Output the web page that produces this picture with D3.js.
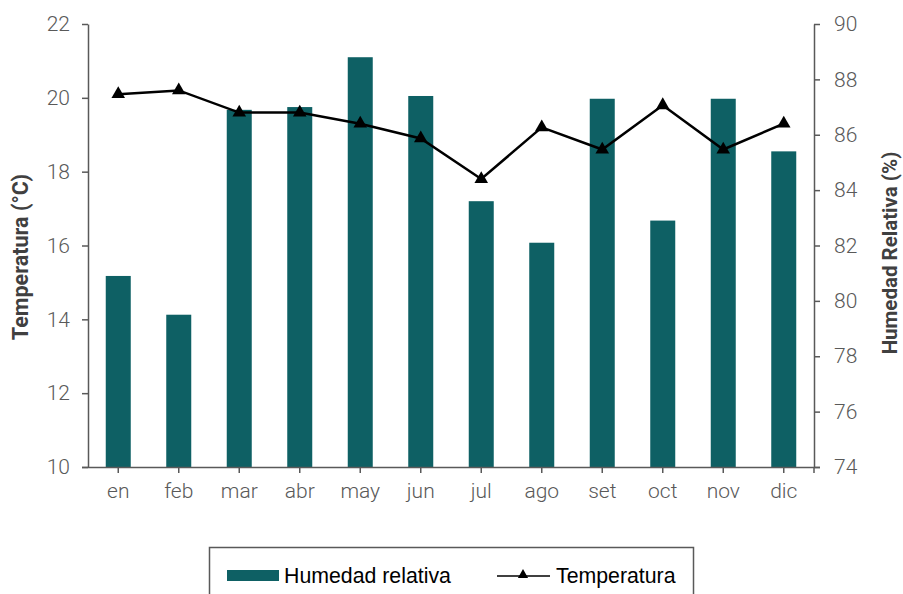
<!DOCTYPE html>
<html><head><meta charset="utf-8">
<script src="https://cdn.jsdelivr.net/npm/d3@7"></script>
<style>body{margin:0;background:#fff}svg{display:block}</style>
</head><body>
<script>
const months = ["en","feb","mar","abr","may","jun","jul","ago","set","oct","nov","dic"];
const humedad = [80.9,79.5,86.9,87.0,88.8,87.4,83.6,82.1,87.3,82.9,87.3,85.4];
const temperatura = [20.1,20.2,19.6,19.6,19.3,18.9,17.8,19.2,18.6,19.8,18.6,19.3];
const tempTicks = [10,12,14,16,18,20,22];
const humTicks = [74,76,78,80,82,84,86,88,90];

const W=903,H=594;
const L=88,R=814,T=24,B=467;
const svg=d3.select("body").append("svg").attr("width",W).attr("height",H);
const xc=d3.scaleBand().domain(months).range([L,R]);
const yL=d3.scaleLinear().domain([10,22]).range([B,T]);
const yR=d3.scaleLinear().domain([74,90]).range([B,T]);
const axisCol="#595959", tickCol="#595959";

// bars
svg.append("g").selectAll("rect").data(humedad).join("rect")
 .attr("x",(d,i)=>xc(months[i])+xc.bandwidth()/2-12.5).attr("width",25)
 .attr("y",d=>yR(d)).attr("height",d=>B-yR(d)).attr("fill","#0e6064");

// axes
function styleAxis(g){g.selectAll("path,line").attr("stroke",axisCol).attr("stroke-width",1.5);
 g.selectAll("text").attr("fill",tickCol).style("font-family","Roboto").style("font-weight","300").style("font-size","21px");}
const gl=svg.append("g").attr("transform",`translate(${L},0)`).call(d3.axisLeft(yL).tickValues(tempTicks).tickSize(6).tickSizeOuter(0).tickPadding(12));
styleAxis(gl);
const gr=svg.append("g").attr("transform",`translate(${R},0)`).call(d3.axisRight(yR).tickValues(humTicks).tickSize(6).tickSizeOuter(0).tickPadding(14));
styleAxis(gr);
const gx=svg.append("g").attr("transform",`translate(0,${B})`).call(d3.axisBottom(xc).tickSize(6).tickSizeOuter(0).tickPadding(10));
styleAxis(gx);
gx.select("path.domain").attr("d",`M${L-6},0.5H${R+6}`);
gx.append("line").attr("x1",R).attr("x2",R).attr("y1",0).attr("y2",6).attr("stroke",axisCol).attr("stroke-width",1.5);

// line
const line=d3.line().x((d,i)=>xc(months[i])+xc.bandwidth()/2).y(d=>yL(d));
svg.append("path").datum(temperatura).attr("d",line).attr("fill","none").attr("stroke","#000").attr("stroke-width",2.5);
const tri=d3.symbol().type(d3.symbolTriangle).size(80);
svg.append("g").selectAll("path").data(temperatura).join("path")
 .attr("d",tri).attr("transform",(d,i)=>`translate(${xc(months[i])+xc.bandwidth()/2},${yL(d)})`).attr("fill","#000");

// axis titles
svg.append("text").attr("transform","translate(28,257) rotate(-90)").attr("text-anchor","middle")
 .style("font-family","Roboto").style("font-weight","700").style("font-size","21.5px").attr("fill","#404040").text("Temperatura (°C)");
svg.append("text").attr("transform","translate(897,253) rotate(-90)").attr("text-anchor","middle")
 .style("font-family","Roboto").style("font-weight","700").style("font-size","20.5px").attr("fill","#404040").text("Humedad Relativa (%)");

// legend
svg.append("rect").attr("x",209.5).attr("y",547.5).attr("width",484).attr("height",60).attr("fill","none").attr("stroke","#595959").attr("stroke-width",1.5);
svg.append("rect").attr("x",227).attr("y",570).attr("width",52).attr("height",11).attr("fill","#0e6064");
svg.append("text").attr("x",284).attr("y",583).style("font-family","Liberation Sans").style("font-size","21.3px").attr("fill","#000").text("Humedad relativa");
svg.append("line").attr("x1",497).attr("x2",550).attr("y1",576).attr("y2",576).attr("stroke","#000").attr("stroke-width",1.5);
svg.append("path").attr("d",d3.symbol().type(d3.symbolTriangle).size(45)).attr("transform","translate(523,575)").attr("fill","#000");
svg.append("text").attr("x",556).attr("y",583).style("font-family","Liberation Sans").style("font-size","21.3px").attr("fill","#000").text("Temperatura");
</script>
</body></html>
